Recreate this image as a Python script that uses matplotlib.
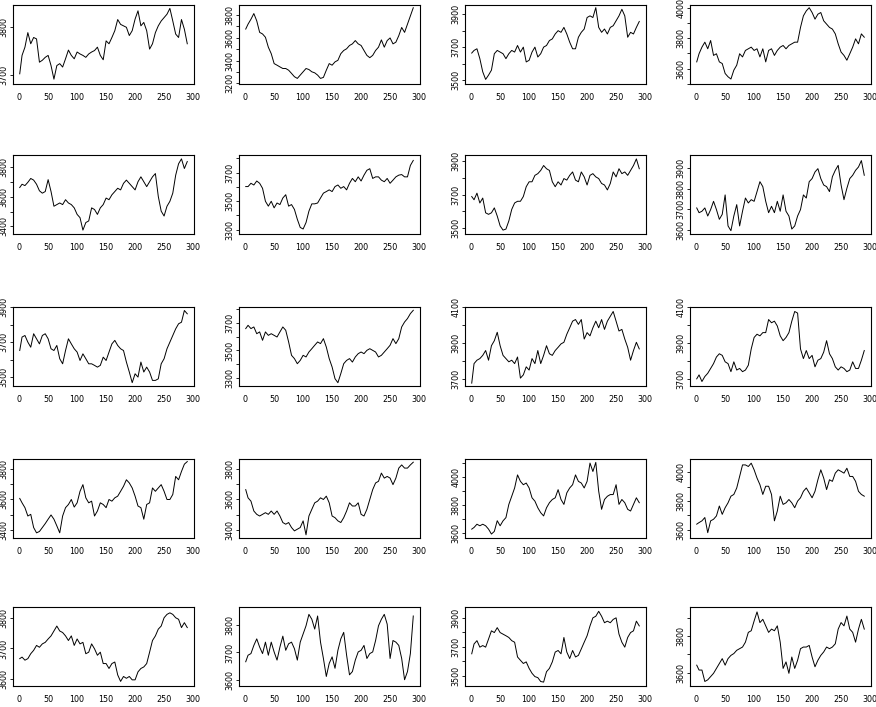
import numpy as np
import matplotlib
matplotlib.use("Agg")
import matplotlib.pyplot as plt

# time index: 1, 5, 10, ..., 290
T = np.array([1] + list(range(5, 291, 5)))
X_TICKS = [0, 50, 100, 150, 200, 250, 300]

s1 = [3703, 3741, 3758, 3788, 3765, 3778, 3775, 3727, 3731, 3737,
      3741, 3720, 3692, 3720, 3724, 3717, 3734, 3752, 3741, 3734,
      3748, 3744, 3741, 3737, 3744, 3748, 3751, 3758, 3741, 3732,
      3771, 3765, 3778, 3792, 3815, 3805, 3802, 3799, 3782, 3792,
      3816, 3833, 3802, 3809, 3792, 3754, 3765, 3788, 3802, 3812,
      3819, 3826, 3838, 3812, 3785, 3778, 3815, 3795, 3765]
s2 = [3676, 3719, 3762, 3812, 3748, 3647, 3633, 3604, 3517, 3460,
      3373, 3359, 3344, 3330, 3330, 3315, 3287, 3258, 3243, 3272,
      3301, 3330, 3321, 3301, 3292, 3272, 3243, 3252, 3315, 3373,
      3359, 3388, 3402, 3460, 3488, 3503, 3532, 3546, 3575, 3546,
      3532, 3488, 3445, 3425, 3445, 3488, 3517, 3581, 3517, 3575,
      3598, 3546, 3561, 3618, 3690, 3647, 3719, 3791, 3863]
s3 = [3664, 3680, 3690, 3630, 3550, 3504, 3530, 3560, 3660, 3680,
      3670, 3660, 3630, 3660, 3680, 3670, 3710, 3670, 3700, 3610,
      3620, 3670, 3700, 3640, 3660, 3700, 3710, 3740, 3750, 3780,
      3800, 3790, 3820, 3780, 3730, 3690, 3690, 3760, 3790, 3810,
      3880, 3890, 3880, 3940, 3820, 3790, 3810, 3780, 3820, 3830,
      3860, 3890, 3930, 3890, 3760, 3790, 3780, 3820, 3856]
s4 = [3644, 3698, 3742, 3775, 3731, 3786, 3687, 3698, 3644, 3633,
      3567, 3545, 3530, 3589, 3622, 3698, 3677, 3720, 3731, 3742,
      3720, 3731, 3677, 3731, 3644, 3720, 3731, 3687, 3720, 3742,
      3753, 3731, 3753, 3764, 3775, 3775, 3873, 3950, 3983, 4004,
      3972, 3928, 3961, 3972, 3917, 3895, 3873, 3862, 3830, 3764,
      3709, 3687, 3655, 3698, 3742, 3797, 3764, 3830, 3808]
s5 = [3662, 3684, 3675, 3697, 3723, 3712, 3684, 3640, 3624, 3635,
      3715, 3635, 3536, 3547, 3558, 3547, 3580, 3558, 3547, 3525,
      3481, 3459, 3375, 3426, 3437, 3525, 3514, 3481, 3525, 3547,
      3591, 3580, 3613, 3635, 3657, 3646, 3690, 3712, 3690, 3668,
      3646, 3701, 3734, 3701, 3668, 3701, 3734, 3756, 3602, 3503,
      3470, 3536, 3569, 3624, 3745, 3822, 3855, 3790, 3837]
s6 = [3602, 3602, 3625, 3613, 3641, 3625, 3590, 3499, 3465, 3499,
      3453, 3487, 3476, 3522, 3545, 3465, 3476, 3442, 3373, 3316,
      3305, 3350, 3430, 3481, 3481, 3487, 3522, 3556, 3567, 3579,
      3567, 3602, 3613, 3590, 3602, 3579, 3625, 3659, 3636, 3670,
      3641, 3682, 3716, 3727, 3659, 3670, 3670, 3647, 3636, 3659,
      3625, 3647, 3670, 3682, 3686, 3670, 3670, 3750, 3785]
s7 = [3688, 3669, 3708, 3650, 3679, 3592, 3583, 3592, 3621, 3573,
      3515, 3490, 3496, 3544, 3612, 3650, 3660, 3660, 3688, 3746,
      3775, 3775, 3813, 3823, 3842, 3871, 3852, 3842, 3775, 3746,
      3775, 3756, 3794, 3785, 3813, 3833, 3785, 3775, 3833, 3804,
      3756, 3813, 3823, 3804, 3794, 3765, 3756, 3727, 3765, 3833,
      3804, 3852, 3823, 3833, 3813, 3842, 3871, 3910, 3852]
s8 = [3707, 3684, 3691, 3707, 3668, 3699, 3739, 3699, 3652, 3676,
      3770, 3620, 3597, 3668, 3723, 3620, 3691, 3755, 3731, 3747,
      3739, 3786, 3834, 3810, 3739, 3684, 3715, 3684, 3739, 3691,
      3770, 3691, 3668, 3605, 3620, 3668, 3699, 3770, 3755, 3834,
      3849, 3881, 3897, 3849, 3818, 3810, 3786, 3858, 3889, 3913,
      3818, 3747, 3802, 3849, 3865, 3889, 3905, 3936, 3865]
s9 = [3652, 3729, 3738, 3700, 3671, 3748, 3719, 3690, 3738, 3748,
      3719, 3662, 3652, 3681, 3605, 3576, 3652, 3719, 3690, 3662,
      3643, 3595, 3633, 3605, 3576, 3576, 3567, 3557, 3567, 3614,
      3595, 3643, 3690, 3710, 3681, 3662, 3652, 3586, 3529, 3468,
      3519, 3500, 3586, 3529, 3557, 3529, 3481, 3481, 3490, 3576,
      3605, 3662, 3700, 3738, 3776, 3805, 3814, 3881, 3862]
s10 = [3659, 3683, 3659, 3671, 3622, 3635, 3574, 3635, 3610, 3622,
       3610, 3598, 3635, 3671, 3647, 3562, 3465, 3441, 3404, 3428,
       3465, 3453, 3489, 3513, 3538, 3562, 3550, 3586, 3525, 3441,
       3380, 3295, 3266, 3332, 3404, 3428, 3441, 3416, 3453, 3477,
       3489, 3477, 3501, 3513, 3501, 3489, 3453, 3465, 3489, 3513,
       3538, 3586, 3550, 3586, 3671, 3707, 3732, 3768, 3792]
s11 = [3676, 3785, 3804, 3813, 3831, 3858, 3804, 3885, 3913, 3960,
       3885, 3831, 3813, 3795, 3804, 3785, 3822, 3704, 3722, 3767,
       3749, 3813, 3785, 3858, 3785, 3831, 3885, 3840, 3831, 3858,
       3876, 3895, 3904, 3949, 3985, 4022, 4031, 4004, 4031, 3922,
       3958, 3940, 3985, 4022, 3985, 4031, 3976, 4022, 4049, 4076,
       4022, 3967, 3976, 3922, 3876, 3804, 3858, 3904, 3867]
s12 = [3700, 3722, 3685, 3713, 3731, 3758, 3785, 3822, 3840, 3831,
       3795, 3785, 3740, 3795, 3749, 3758, 3740, 3749, 3776, 3867,
       3931, 3949, 3940, 3958, 3958, 4031, 4013, 4022, 3995, 3940,
       3913, 3931, 3958, 4022, 4076, 4067, 3867, 3813, 3858, 3813,
       3831, 3767, 3804, 3813, 3849, 3913, 3840, 3813, 3767, 3749,
       3767, 3758, 3740, 3749, 3795, 3758, 3758, 3804, 3858]
s13 = [3607, 3578, 3546, 3491, 3502, 3415, 3380, 3389, 3415, 3441,
       3470, 3498, 3470, 3426, 3380, 3491, 3546, 3567, 3600, 3550,
       3578, 3654, 3698, 3611, 3578, 3589, 3491, 3524, 3578, 3567,
       3546, 3600, 3589, 3611, 3622, 3654, 3687, 3730, 3709, 3676,
       3622, 3557, 3546, 3470, 3567, 3578, 3676, 3654, 3676, 3698,
       3654, 3600, 3600, 3633, 3752, 3730, 3785, 3833, 3850]
s14 = [3665, 3611, 3589, 3524, 3502, 3491, 3502, 3513, 3502, 3524,
       3502, 3524, 3491, 3448, 3437, 3448, 3415, 3393, 3404, 3415,
       3459, 3367, 3491, 3535, 3578, 3589, 3611, 3600, 3622, 3578,
       3491, 3480, 3459, 3448, 3480, 3524, 3578, 3557, 3557, 3578,
       3502, 3491, 3535, 3600, 3665, 3709, 3720, 3774, 3741, 3752,
       3741, 3698, 3741, 3807, 3828, 3807, 3807, 3828, 3846]
s15 = [3630, 3642, 3665, 3654, 3665, 3654, 3630, 3595, 3614, 3690,
       3654, 3689, 3712, 3806, 3864, 3923, 4016, 3970, 3946, 3958,
       3923, 3853, 3829, 3782, 3747, 3724, 3782, 3818, 3841, 3853,
       3911, 3841, 3806, 3888, 3923, 3946, 4016, 3970, 3958, 3923,
       3970, 4100, 4040, 4105, 3900, 3771, 3841, 3864, 3876, 3876,
       3946, 3806, 3841, 3818, 3771, 3759, 3806, 3853, 3818]
s16 = [3639, 3650, 3662, 3685, 3580, 3662, 3673, 3696, 3765, 3707,
       3753, 3787, 3833, 3845, 3890, 3970, 4050, 4050, 4039, 4062,
       4016, 3959, 3913, 3845, 3902, 3902, 3845, 3662, 3730, 3833,
       3776, 3787, 3810, 3787, 3753, 3799, 3822, 3867, 3890, 3856,
       3822, 3867, 3947, 4016, 3959, 3879, 3947, 3936, 3993, 4016,
       4005, 3993, 4027, 3970, 3970, 3936, 3867, 3845, 3833]
s17 = [3667, 3672, 3662, 3667, 3683, 3694, 3710, 3704, 3715, 3720,
       3731, 3741, 3757, 3773, 3757, 3752, 3741, 3726, 3741, 3710,
       3731, 3715, 3720, 3683, 3688, 3715, 3699, 3678, 3688, 3651,
       3651, 3635, 3651, 3656, 3614, 3593, 3609, 3603, 3609, 3598,
       3598, 3624, 3635, 3640, 3651, 3688, 3726, 3741, 3763, 3773,
       3800, 3811, 3816, 3811, 3800, 3795, 3768, 3784, 3768]
s18 = [3666, 3690, 3696, 3726, 3750, 3720, 3696, 3738, 3690, 3738,
       3702, 3672, 3720, 3760, 3708, 3732, 3738, 3714, 3672, 3738,
       3768, 3798, 3840, 3822, 3786, 3834, 3738, 3678, 3612, 3660,
       3684, 3642, 3708, 3750, 3774, 3690, 3618, 3630, 3672, 3702,
       3708, 3726, 3678, 3696, 3702, 3744, 3798, 3822, 3840, 3804,
       3678, 3744, 3738, 3726, 3678, 3600, 3630, 3696, 3834]
s19 = [3651, 3719, 3742, 3697, 3708, 3697, 3753, 3810, 3798, 3832,
       3798, 3787, 3776, 3764, 3742, 3731, 3629, 3606, 3584, 3595,
       3550, 3516, 3493, 3486, 3459, 3455, 3527, 3550, 3595, 3663,
       3674, 3651, 3764, 3663, 3618, 3674, 3629, 3640, 3685, 3731,
       3776, 3844, 3900, 3911, 3945, 3911, 3866, 3877, 3866, 3889,
       3900, 3787, 3731, 3697, 3764, 3798, 3810, 3877, 3844]
s20 = [3641, 3614, 3614, 3551, 3560, 3578, 3596, 3623, 3650, 3677,
       3641, 3677, 3695, 3705, 3723, 3732, 3741, 3768, 3822, 3831,
       3885, 3935, 3876, 3894, 3858, 3822, 3840, 3831, 3858, 3768,
       3623, 3659, 3596, 3686, 3623, 3668, 3732, 3741, 3741, 3750,
       3686, 3632, 3668, 3695, 3714, 3741, 3732, 3741, 3759, 3840,
       3876, 3858, 3912, 3840, 3822, 3768, 3840, 3894, 3840]

SERIES = [s1, s2, s3, s4, s5, s6, s7, s8, s9, s10,
          s11, s12, s13, s14, s15, s16, s17, s18, s19, s20]

Y_LIMS = [(3682, 3845), (3194, 3887), (3476, 3956), (3497, 4022),
          (3349, 3881), (3270, 3823), (3467, 3933), (3581, 3963),
          (3449, 3901), (3242, 3816), (3660, 4101), (3660, 4101),
          (3346, 3867), (3346, 3867), (3567, 4129), (3543, 4091),
          (3578, 3835), (3577, 3867), (3428, 3975), (3526, 3962)]
Y_LABELS = [[3700, 3800], [3200, 3400, 3600, 3800], [3500, 3700, 3900], [3600, 3800, 4000],
            [3400, 3600, 3800], [3300, 3500, 3700], [3500, 3700, 3900], [3600, 3700, 3800, 3900],
            [3500, 3700, 3900], [3300, 3500, 3700], [3700, 3900, 4100], [3700, 3900, 4100],
            [3400, 3600, 3800], [3400, 3600, 3800], [3600, 3800, 4000], [3600, 3800, 4000],
            [3600, 3700, 3800], [3600, 3700, 3800], [3500, 3700, 3900], [3600, 3800]]

W, H = 876, 707
fig = plt.figure(figsize=(W / 100, H / 100), dpi=100)
fig.patch.set_facecolor("white")

col_left = [13, 239, 465, 690]
row_top = [5, 155, 307, 459, 607]
pw, ph = 181, 79

for i, y in enumerate(SERIES):
    r, c = divmod(i, 4)
    ax = fig.add_axes([col_left[c] / W, 1 - (row_top[r] + ph) / H, pw / W, ph / H])
    n = min(len(T), len(y))
    ax.plot(T[:n], y[:n], color="black", lw=0.7)
    ax.set_xlim(-10.6, 301.6)
    lo, hi = Y_LIMS[i]
    ax.set_ylim(lo, hi)
    ax.set_xticks(X_TICKS)
    ax.set_xticklabels([str(v) for v in X_TICKS])
    ax.set_yticks(Y_LABELS[i])
    ax.set_yticklabels([str(v) for v in Y_LABELS[i]])
    minor = [v for v in range(3100, 4200, 100) if lo <= v <= hi and v not in Y_LABELS[i]]
    ax.set_yticks(minor, minor=True)
    ax.tick_params(axis="x", length=0, pad=6.5, labelsize=5.8)
    ax.tick_params(axis="y", which="both", length=2, width=0.6, pad=1.5,
                   labelsize=5.8, labelrotation=90, direction="out")
    for lab in ax.get_yticklabels():
        lab.set_verticalalignment("center")
    for sp in ax.spines.values():
        sp.set_linewidth(0.8)
        sp.set_color("black")

fig.savefig("out.png", dpi=100, facecolor="white")
